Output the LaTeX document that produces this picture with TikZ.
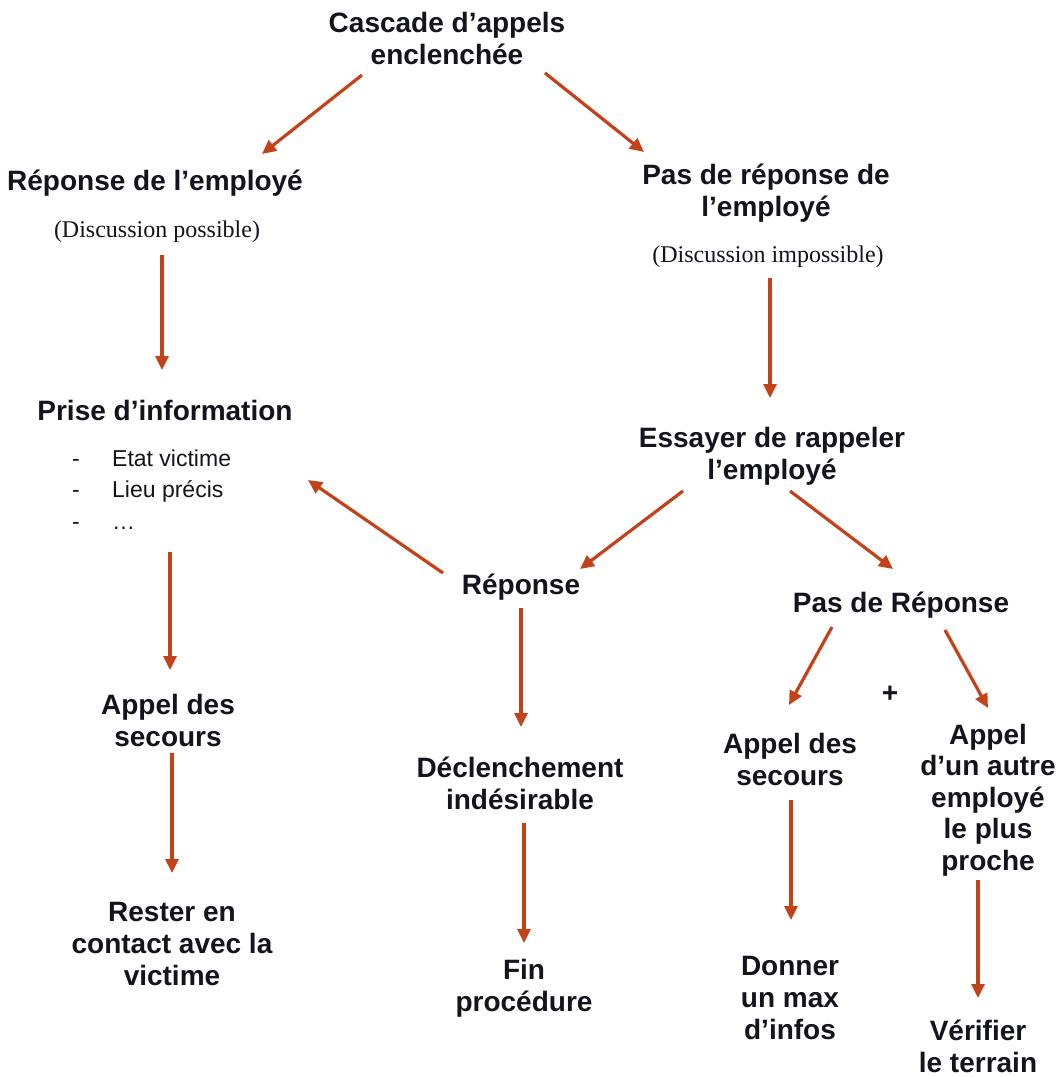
\documentclass[tikz,border=0pt]{standalone}
\usepackage{fontspec}
\setmainfont{Liberation Sans}
\newfontfamily\serifr{Liberation Serif}
\usetikzlibrary{arrows.meta,calc}
\definecolor{arrowred}{RGB}{196,66,26}
\definecolor{txt}{RGB}{20,20,30}
\begin{document}
\begin{tikzpicture}[x=1pt,y=-1pt,
  lbl/.style={font=\bfseries\fontsize{28}{32}\selectfont, align=center, inner sep=0pt, text=txt},
  sub/.style={font=\serifr\fontsize{24}{28}\selectfont, inner sep=0pt, text=txt},
  lst/.style={font=\fontsize{23}{31.5}\selectfont, align=left, inner sep=0pt, text=txt},
  arr/.style={draw=arrowred, line width=3.2pt, -{Triangle[length=14pt,width=13pt]}}]
\useasboundingbox[fill=white] (0,0) rectangle (1062,1077);

\node[lbl] (cascade) at (447,38) {Cascade d’appels\\enclenchée};
\node[lbl] (rep) at (155,183) {Réponse de l’employé};
\node[sub] (dposs) at (157,232) {(Discussion possible)};
\node[lbl] (pas) at (766,193) {Pas de réponse de\\l’employé};
\node[sub] (dimp) at (768,257) {(Discussion impossible)};
\node[lbl] (prise) at (165,410) {Prise d’information};
\node[lst, anchor=west] (list) at (72,494) {\makebox[40pt][l]{-}Etat victime\\\makebox[40pt][l]{-}Lieu précis\\\makebox[40pt][l]{-}…\strut};
\node[lbl] (essayer) at (772,456) {Essayer de rappeler\\l’employé};
\node[lbl] (reponse) at (521,587) {Réponse};
\node[lbl] (pasrep) at (901,605) {Pas de Réponse};
\node[lbl] (appelL) at (168,720) {Appel des\\secours};
\node[lbl] (decl) at (520,783) {Déclenchement\\indésirable};
\node[lbl] (appelR) at (790,759) {Appel des\\secours};
\node[lbl] (plus) at (890,694) {+};
\node[lbl, font=\bfseries\fontsize{28}{31.5}\selectfont] (autre) at (988,800) {Appel\\d’un autre\\employé\\le plus\\proche};
\node[lbl] (rester) at (172,944) {Rester en\\contact avec la\\victime};
\node[lbl] (fin) at (524,988) {Fin\\procédure};
\node[lbl] (donner) at (790,998) {Donner\\un max\\d’infos};
\node[lbl] (verif) at (978,1046) {Vérifier\\le terrain};

\draw[arr] ($(cascade)+(-85,37)$) -- ($(rep)+(107,-29)$);
\draw[arr] ($(cascade)+(98,35)$) -- ($(pas)+(-122,-41)$);
\draw[arr] ($(dposs)+(5,23)$) -- ($(prise)+(-3,-40)$);
\draw[arr] ($(dimp)+(2,21)$) -- ($(essayer)+(-2,-58)$);
\draw[arr] ($(essayer)+(-89,35)$) -- ($(reponse)+(59,-18)$);
\draw[arr] ($(essayer)+(18,35)$) -- ($(pasrep)+(-8,-36)$);
\draw[arr] ($(reponse)+(-78,-14)$) -- ($(list.west)+(236,-14)$);
\draw[arr] ($(list.west)+(98,58)$) -- ($(appelL)+(2,-50)$);
\draw[arr] ($(reponse)+(0,21)$) -- ($(decl)+(1,-56)$);
\draw[arr] ($(pasrep)+(-69,22)$) -- ($(appelR)+(-1,-54)$);
\draw[arr] ($(pasrep)+(44,25)$) -- ($(autre)+(0,-92)$);
\draw[arr] ($(appelL)+(4,33)$) -- ($(rester)+(0,-71)$);
\draw[arr] ($(decl)+(4,40)$) -- ($(fin)+(0,-45)$);
\draw[arr] ($(appelR)+(1,41)$) -- ($(donner)+(1,-78)$);
\draw[arr] ($(autre)+(-10,80)$) -- ($(verif)+(0,-48)$);
\end{tikzpicture}
\end{document}
